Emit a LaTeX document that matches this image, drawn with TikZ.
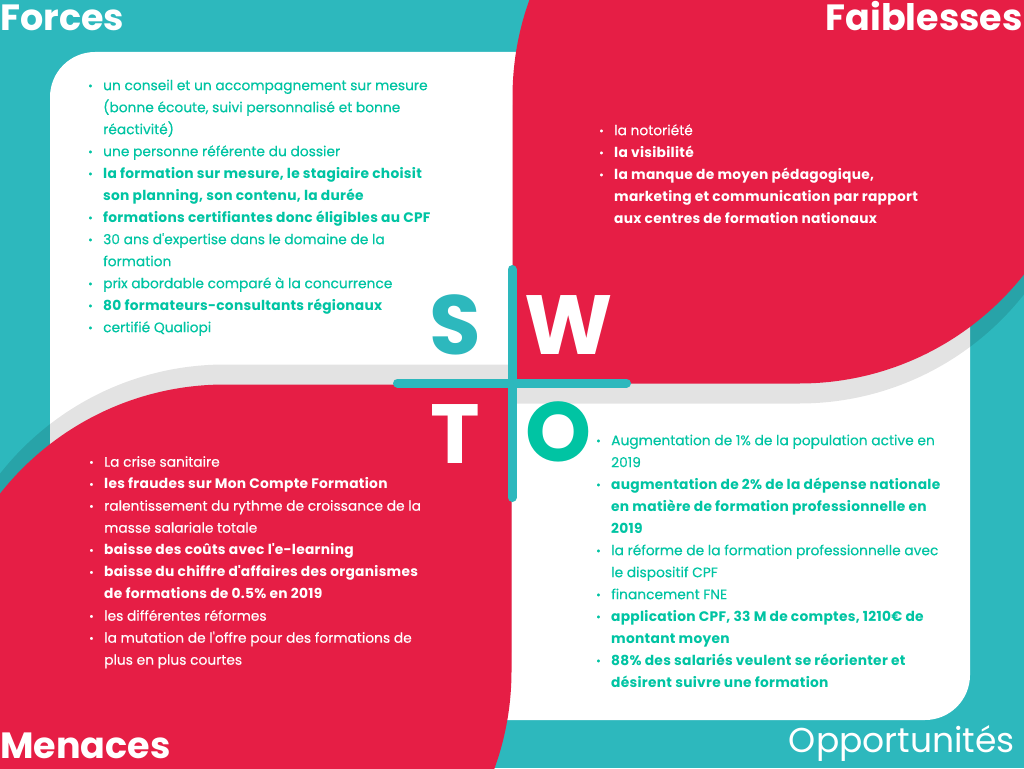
\documentclass[tikz,border=0pt]{standalone}
\usepackage{fontspec}
\setmainfont{Poppins}[UprightFeatures={FakeBold=0.35},BoldFeatures={LetterSpace=2}]
\newfontfamily\headfont{Poppins}
\definecolor{bgteal}{HTML}{2DB8BD}
\definecolor{leafred}{HTML}{E61E45}
\definecolor{txtgreen}{HTML}{00C4A3}
\newcommand{\bul}{\makebox[15pt][l]{\raisebox{0.6pt}{\fontsize{11}{11}\selectfont\textbullet}}}
\newcommand{\cont}{\hspace*{15pt}}
\newcommand{\q}{\textquotesingle}
\newcommand{\leafWpath}{(512.5,383.5) -- (512.5,97) .. controls (512.5,-61.2) and (640.8,-189.5) .. (799,-189.5) -- (1085.5,-189.5) -- (1085.5,97) .. controls (1085.5,255.2) and (957.2,383.5) .. (799,383.5) -- cycle}
\newcommand{\leafTpath}{(511.5,384.5) -- (511.5,671) .. controls (511.5,829.2) and (383.2,957.5) .. (225,957.5) -- (-61.5,957.5) -- (-61.5,671) .. controls (-61.5,512.8) and (66.8,384.5) .. (225,384.5) -- cycle}
\tikzset{
  body/.style={anchor=north west, inner sep=0pt, align=left, font=\fontsize{13.8}{22}\selectfont},
  headb/.style={inner sep=0pt, text=white, font=\headfont\bfseries\fontsize{36.5}{37}\selectfont},
  headr/.style={inner sep=0pt, text=white, font=\headfont\fontsize{34.5}{37}\selectfont},
  bigletter/.style={inner sep=0pt, anchor=base, font=\headfont\bfseries\fontsize{84}{84}\selectfont},
  shadowfill/.style={fill=black, fill opacity=0.11},
  crossbar/.style={draw=bgteal, line width=9pt, line cap=round},
}
\begin{document}
\begin{tikzpicture}[x=1pt,y=-1pt]
\useasboundingbox (0,0) rectangle (1024,768);
\fill[bgteal] (0,0) rectangle (1024,768);
\fill[white, rounded corners=45pt] (50,52) rectangle (970,720);
% shadows
\fill[shadowfill, shift={(0,20)}] \leafWpath;
\fill[shadowfill, shift={(0,-20)}] \leafTpath;
% leaves
\fill[leafred] \leafWpath;
\fill[leafred] \leafTpath;
% cross
\coordinate (ctop) at (512,269.5);
\coordinate (cbot) at (512,497.5);
\coordinate (cleft) at (397.5,383);
\coordinate (cright) at (626.5,383);
\draw[crossbar] (ctop) -- (cbot);
\draw[crossbar] (cleft) -- (cright);
% big letters
\node[bigletter, text=bgteal] (S) at (455.5,354) {S};
\node[bigletter, text=white] (W) at (568.5,354) {W};
\node[bigletter, text=white] (T) at (455,463) {T};
\node[bigletter, text=txtgreen] (O) at (558.5,461) {O};
% headings
\node[headb, anchor=base west] (forces) at (0,31) {Forces};
\node[headb, anchor=base east] (faib) at (1023,31) {Faiblesses};
\node[headb, anchor=base west] (men) at (0,758) {Menaces};
\node[headr, anchor=base east] (opp) at (1015,752) {Opportunités};
% lists
\node[body, text=txtgreen] (listS) at (88,77) {%
\rule{0pt}{13pt}\bul un conseil et un accompagnement sur mesure\\
\cont (bonne écoute, suivi personnalisé et bonne\\
\cont réactivité)\\
\bul une personne référente du dossier\\
\bul\textbf{la formation sur mesure, le stagiaire choisit}\\
\cont\textbf{son planning, son contenu, la durée}\\
\bul\textbf{formations certifiantes donc éligibles au CPF}\\
\bul 30 ans d\q expertise dans le domaine de la\\
\cont formation\\
\bul prix abordable comparé à la concurrence\\
\bul\textbf{80 formateurs-consultants régionaux}\\
\bul certifié Qualiopi};
\node[body, text=white] (listW) at (599,122) {%
\rule{0pt}{13pt}\bul la notoriété\\
\bul\textbf{la visibilité}\\
\bul\textbf{la manque de moyen pédagogique,}\\
\cont\textbf{marketing et communication par rapport}\\
\cont\textbf{aux centres de formation nationaux}};
\node[body, text=white] (listT) at (89,453.5) {%
\rule{0pt}{13pt}\bul La crise sanitaire\\
\bul\textbf{les fraudes sur Mon Compte Formation}\\
\bul ralentissement du rythme de croissance de la\\
\cont masse salariale totale\\
\bul\textbf{baisse des coûts avec l\q e-learning}\\
\bul\textbf{baisse du chiffre d\q affaires des organismes}\\
\cont\textbf{de formations de 0.5\% en 2019}\\
\bul les différentes réformes\\
\bul la mutation de l\q offre pour des formations de\\
\cont plus en plus courtes};
\node[body, text=txtgreen] (listO) at (596,432) {%
\rule{0pt}{13pt}\bul Augmentation de 1\% de la population active en\\
\cont 2019\\
\bul\textbf{augmentation de 2\% de la dépense nationale}\\
\cont\textbf{en matière de formation professionnelle en}\\
\cont\textbf{2019}\\
\bul la réforme de la formation professionnelle avec\\
\cont le dispositif CPF\\
\bul financement FNE\\
\bul\textbf{application CPF, 33 M de comptes, 1210€ de}\\
\cont\textbf{montant moyen}\\
\bul\textbf{88\% des salariés veulent se réorienter et}\\
\cont\textbf{désirent suivre une formation}};
\end{tikzpicture}
\end{document}
